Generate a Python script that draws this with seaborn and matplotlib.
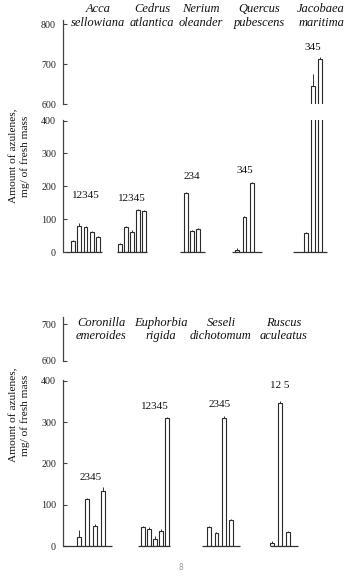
import numpy as np
import pandas as pd
import matplotlib
matplotlib.use("Agg")
import matplotlib.pyplot as plt
import seaborn as sns

# ---------------- data ----------------
top_species = ["Acca\nsellowiana", "Cedrus\natlantica", "Nerium\noleander",
               "Quercus\npubescens", "Jacobaea\nmaritima"]
top_bar_ids = [[1, 2, 3, 4, 5], [1, 2, 3, 4, 5], [2, 3, 4], [3, 4, 5], [3, 4, 5]]
top_values = [[33, 79, 75, 60, 45], [25, 76, 60, 128, 125], [180, 63, 70],
              [7, 108, 210], [58, 645, 713]]
top_errors = [[3, 8, 4, 5, 4], [3, 3, 8, 3, 3], [3, 3, 3], [5, 3, 3], [4, 30, 4]]

bottom_species = ["Coronilla\nemeroides", "Euphorbia\nrigida",
                  "Seseli\ndichotomum", "Ruscus\naculeatus"]
bottom_bar_ids = [[2, 3, 4, 5], [1, 2, 3, 4, 5], [2, 3, 4, 5], [1, 2, 5]]
bottom_values = [[22, 113, 48, 132], [46, 42, 17, 36, 310], [46, 32, 311, 63],
                 [8, 347, 33]]
bottom_errors = [[16, 3, 5, 11], [3, 3, 7, 5, 3], [3, 3, 3, 3], [5, 3, 4]]

upper_ticks_top = [600, 700, 800]
upper_ticks_bottom = [600, 700]
lower_ticks = [0, 100, 200, 300, 400]
ylabel_text = "Amount of azulenes,\nmg/ of fresh mass"

# ---------------- layout ----------------
W, H = 353, 578
X0, X1 = 63, 340
top_start = [73, 120, 186, 237, 306]
top_step = [6.3, 6.0, 6.0, 7.5, 7.0]
top_pads = [(8, 4), (3, 3), (6, 7), (5, 10), (13, 7)]
top_label_y = [173, 164, 231, 248, 742]
top_species_x = [98, 152, 201, 259, 321]

bot_start = [79, 143, 209, 272]
bot_step = [8.0, 6.0, 7.4, 8.0]
bot_pads = [(16, 9), (5, 3), (7, 9), (2, 10)]
bot_label_y = [167, 337, 342, 389]
bot_species_x = [101, 161, 221, 284]

sns.set_style("white")
plt.rcParams["font.family"] = ["Liberation Serif", "DejaVu Serif"]

fig = plt.figure(figsize=(W / 100, H / 100), dpi=100)


def add_ax(top_px, bottom_px):
    return fig.add_axes([X0 / W, 1 - bottom_px / H, (X1 - X0) / W,
                         (bottom_px - top_px) / H])


def ids_label(ids):
    s = str(ids[0])
    for a, b in zip(ids[:-1], ids[1:]):
        if b - a > 1:
            s += " "
        s += str(b)
    return s


def draw_panel(ax_hi, ax_lo, ids_list, vals_list, errs_list, starts, steps,
               pads, label_y, hi_lim, hi_ticks):
    xs, vs, es = [], [], []
    for ids, vals, errs, s, st in zip(ids_list, vals_list, errs_list, starts, steps):
        for i, (v, e) in enumerate(zip(vals, errs)):
            xs.append(s + i * st)
            vs.append(v)
            es.append(e)
    df = pd.DataFrame({"x": xs, "value": vs})
    for ax in (ax_hi, ax_lo):
        sns.barplot(data=df, x="x", y="value", native_scale=True, width=0.6,
                    color="white", saturation=1, edgecolor="#2a2a2a",
                    linewidth=0.8, errorbar=None, ax=ax)
        ax.errorbar(xs, vs, yerr=[np.zeros(len(es)), es], fmt="none",
                    ecolor="#333333", elinewidth=0.7, capsize=0)
        ax.set_xlim(X0, X1)
        ax.set_xticks([])
        ax.set_xlabel("")
        ax.set_ylabel("")
        for sp in ("top", "right", "bottom"):
            ax.spines[sp].set_visible(False)
        ax.spines["left"].set_color("#444444")
        ax.spines["left"].set_linewidth(0.9)
        ax.tick_params(axis="y", left=True, direction="in", length=3,
                       width=0.8, color="#444444", labelsize=7.2,
                       labelcolor="#222222", pad=5)
        ax.patch.set_alpha(0)
    ax_hi.set_ylim(*hi_lim)
    ax_hi.set_yticks(hi_ticks)
    ax_lo.set_ylim(0, 402)
    ax_lo.set_yticks(lower_ticks)
    # group baselines and bar-number labels
    for ids, vals, s, st, (pl, pr), ly in zip(ids_list, vals_list, starts,
                                             steps, pads, label_y):
        first = s
        last = s + (len(vals) - 1) * st
        ax_lo.hlines(0, first - pl, last + pr, color="#333333", lw=0.9,
                     clip_on=False)
        target = ax_hi if ly > 500 else ax_lo
        target.text((first + last) / 2, ly, ids_label(ids), ha="center",
                    va="center", fontsize=8, color="#111111")


# top panel
ax1_hi = add_ax(20, 104)
ax1_lo = add_ax(120, 252)
draw_panel(ax1_hi, ax1_lo, top_bar_ids, top_values, top_errors, top_start,
           top_step, top_pads, top_label_y, (600, 810), upper_ticks_top)

# bottom panel
ax2_hi = add_ax(317, 361)
ax2_lo = add_ax(380, 546)
draw_panel(ax2_hi, ax2_lo, bottom_bar_ids, bottom_values, bottom_errors,
           bot_start, bot_step, bot_pads, bot_label_y, (600, 719),
           upper_ticks_bottom)

# species names
for name, x in zip(top_species, top_species_x):
    fig.text(x / W, 1 - 16 / H, name, ha="center", va="center",
             fontsize=9, style="italic", linespacing=1.25, color="#111111")
for name, x in zip(bottom_species, bot_species_x):
    fig.text(x / W, 1 - 329.5 / H, name, ha="center", va="center",
             fontsize=9, style="italic", linespacing=1.15, color="#111111")

# y labels
for yc in (156, 415):
    fig.text(19.5 / W, 1 - yc / H, ylabel_text, rotation=90, ha="center",
             va="center", fontsize=8.2, linespacing=1.3,
             multialignment="center", color="#111111")

fig.text(181 / W, 1 - 567 / H, "8", ha="center", va="center", fontsize=5.5,
         color="#999999", family=["DejaVu Sans"])

fig.savefig("out.png", dpi=100, facecolor="white")
